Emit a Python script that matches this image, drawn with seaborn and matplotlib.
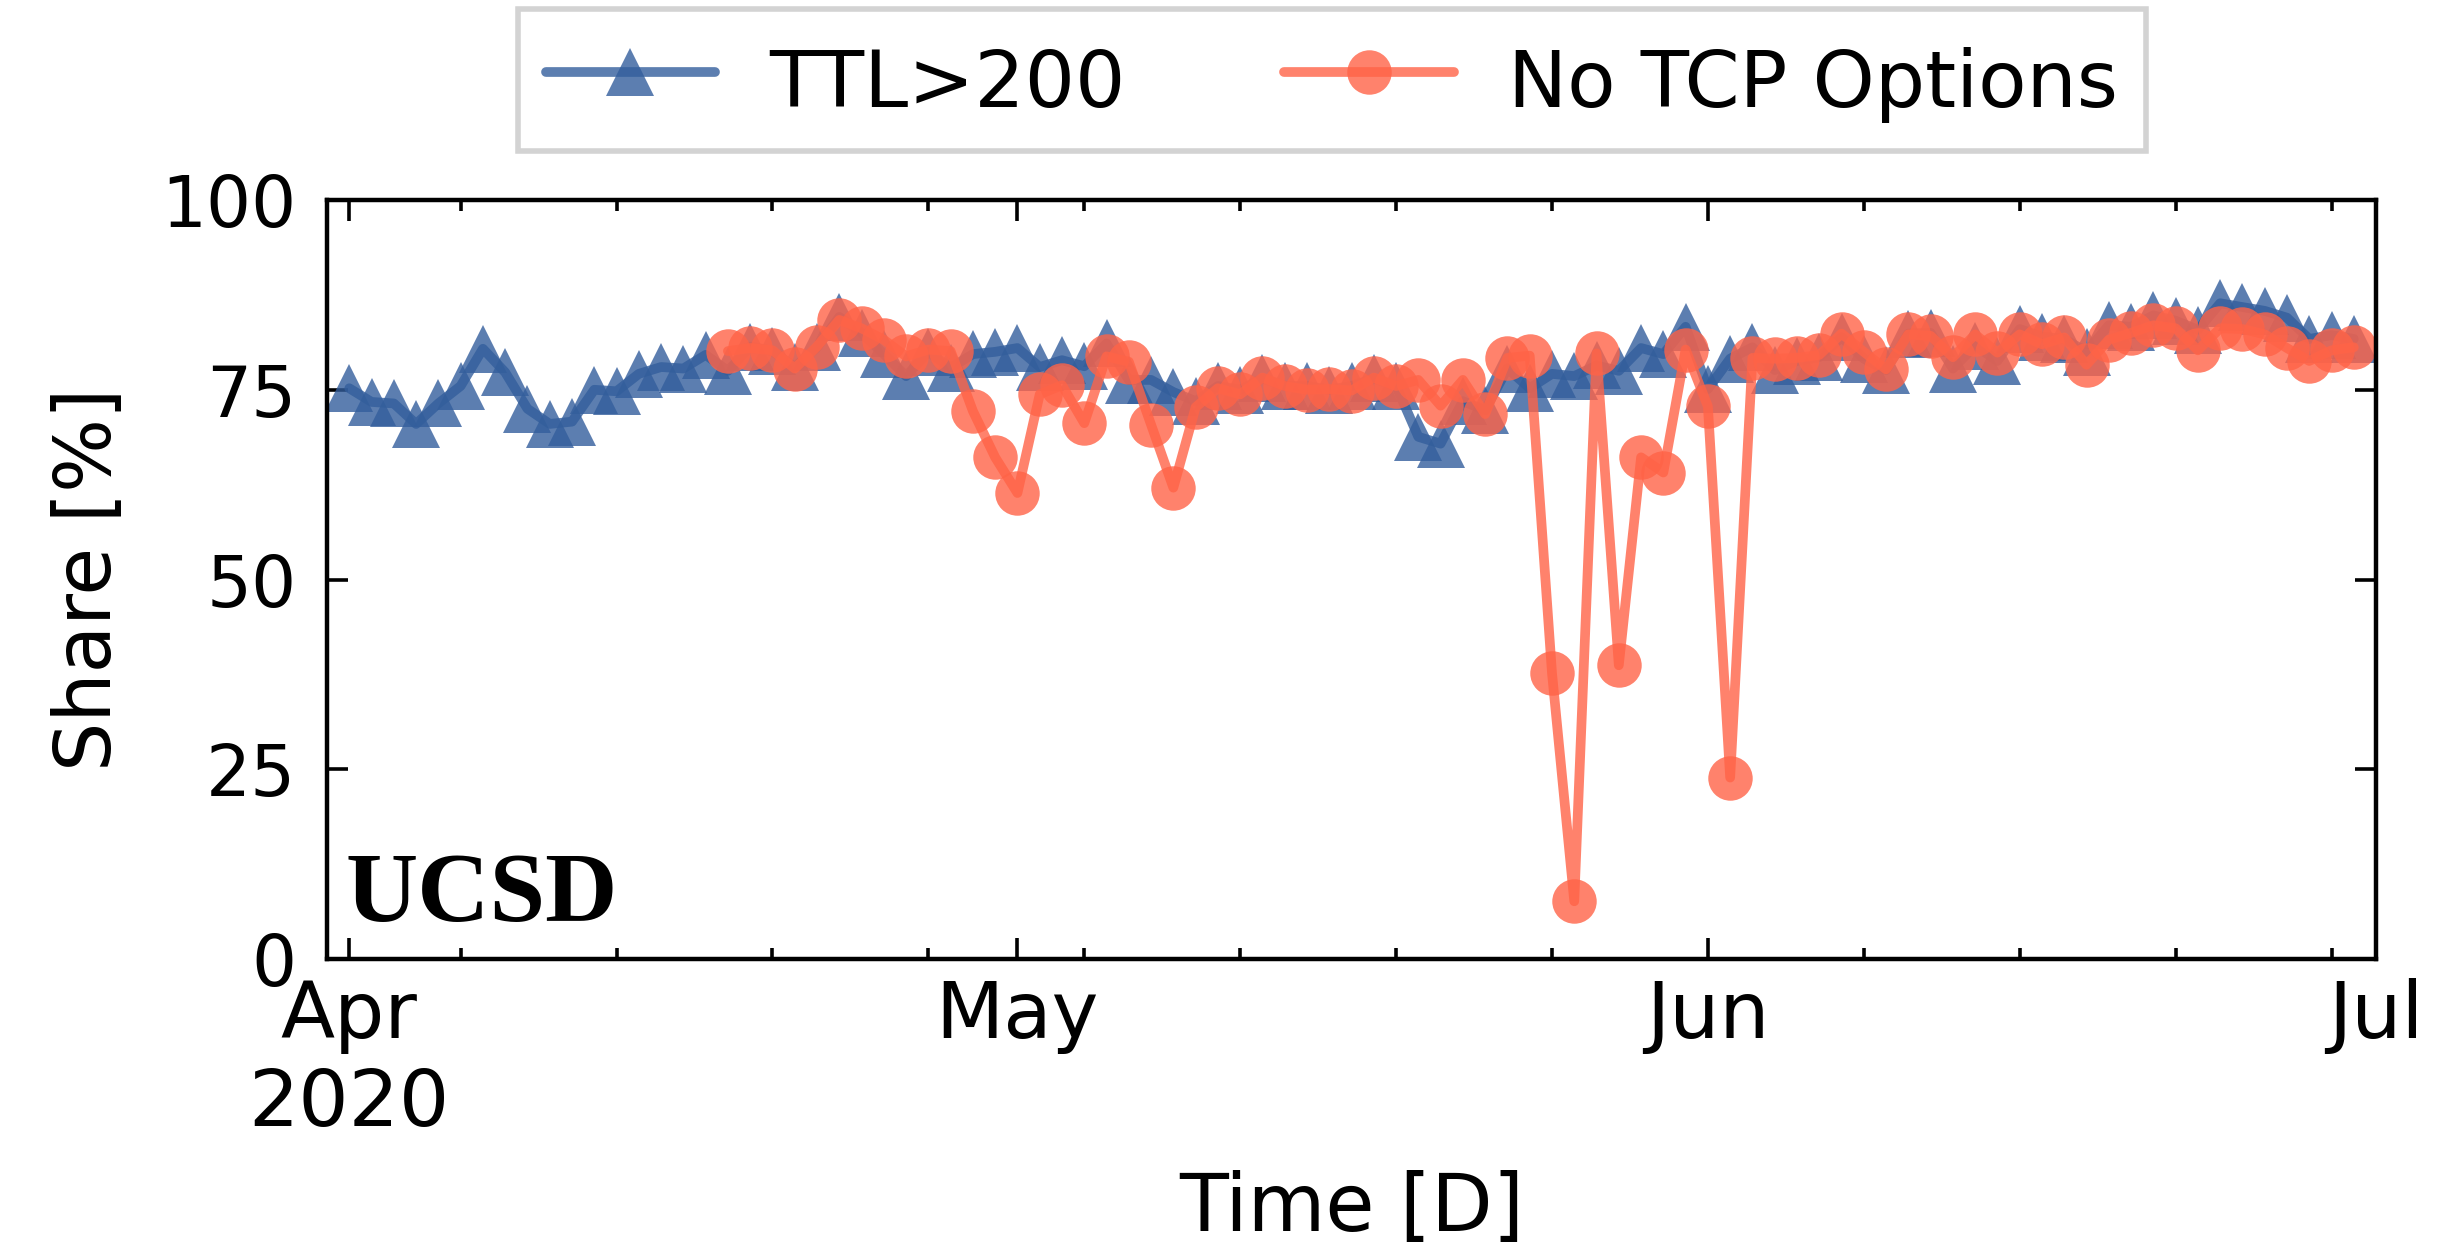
import numpy as np
import pandas as pd
import seaborn as sns
import matplotlib.pyplot as plt
import matplotlib.dates as mdates
from matplotlib.ticker import FuncFormatter

# daily share of packets, Apr 1 - Jun 30 2020
days = pd.date_range("2020-04-01", "2020-06-30", freq="D")

ttl_200 = [75.2, 73.4, 73.2, 70.5, 73.2, 75.5, 80.4, 77.3, 72.5, 70.5,
           70.8, 75.0, 74.8, 77.1, 78.0, 77.8, 79.6, 77.5, 80.7, 80.1,
           78.0, 80.6, 84.6, 82.5, 79.7, 76.8, 80.0, 77.9, 79.7, 80.0,
           80.5, 78.0, 78.9, 78.1, 81.1, 76.3, 76.3, 74.7, 73.5, 75.5,
           75.0, 76.5, 75.5, 75.5, 75.0, 75.5, 76.5, 75.5, 68.8, 67.9,
           73.5, 72.3, 77.8, 75.2, 77.1, 76.8, 78.2, 77.5, 80.5, 79.7,
           83.3, 75.1, 79.1, 80.6, 77.6, 78.8, 79.3, 81.9, 79.1, 77.6,
           82.4, 82.5, 77.8, 80.8, 78.8, 83.0, 82.0, 81.7, 80.0, 83.5,
           83.3, 84.8, 84.1, 82.9, 86.4, 85.9, 85.4, 84.5, 81.7, 82.2,
           81.7]

no_tcp_opts = [np.nan] * 17 + [
           80.1, 80.5, 80.2,
           77.8, 80.7, 84.2, 83.1, 81.6, 79.4, 80.3, 80.1, 72.2, 66.1,
           61.4, 74.4, 75.6, 70.6, 79.4, 78.7, 70.4, 62.1, 72.7, 75.2,
           74.4, 76.6, 75.5, 75.0, 75.1, 74.9, 76.6, 75.5, 76.3, 72.9,
           76.3, 71.8, 79.2, 79.5, 37.7, 7.6, 79.8, 38.7, 66.1, 64.1,
           80.3, 72.8, 23.9, 79.2, 79.1, 79.2, 79.6, 82.4, 80.0, 77.7,
           82.3, 82.1, 79.3, 82.3, 79.9, 82.3, 81.0, 81.9, 78.3, 81.6,
           82.5, 83.5, 83.1, 80.2, 83.1, 83.0, 82.3, 80.5, 78.8, 80.2,
           80.6]

df = pd.DataFrame({"day": days, "TTL>200": ttl_200, "No TCP Options": no_tcp_opts})

sns.set_style("ticks")
plt.rcParams['font.family'] = ['DejaVu Sans']
plt.rcParams['text.color'] = 'black'
plt.rcParams['axes.labelcolor'] = 'black'
plt.rcParams['xtick.color'] = 'black'
plt.rcParams['ytick.color'] = 'black'

fig = plt.figure(figsize=(12.22, 6.24), dpi=200)
ax = fig.add_axes([0.1338, 0.2316, 0.8384, 0.6081])

sns.lineplot(data=df, x="day", y="TTL>200", ax=ax, color="#335e9c", marker="^",
             markersize=17, linewidth=3.5, alpha=0.8, mew=0, label="TTL>200")
sns.lineplot(data=df, x="day", y="No TCP Options", ax=ax, color="tomato", marker="o",
             markersize=16, linewidth=3.5, alpha=0.8, mew=0, label="No TCP Options")

ax.set_xlim(pd.Timestamp("2020-03-31"), pd.Timestamp("2020-07-01"))
ax.set_ylim(0, 100)
ax.set_yticks([0, 25, 50, 75, 100])

ax.xaxis.set_major_locator(mdates.MonthLocator(bymonthday=1))
ax.xaxis.set_minor_locator(mdates.WeekdayLocator(byweekday=mdates.MO))


def month_label(x, pos):
    d = mdates.num2date(x)
    if d.month == 4:
        return d.strftime("%b\n%Y")
    return d.strftime("%b")


ax.xaxis.set_major_formatter(FuncFormatter(month_label))

ax.tick_params(axis="both", which="both", direction="in", top=True, right=True,
               colors="black")
ax.tick_params(axis="both", which="major", length=7.4, width=1.3)
ax.tick_params(axis="both", which="minor", length=3.9, width=1.3)
ax.tick_params(axis="x", which="major", pad=7, labelsize=28.5)
ax.tick_params(axis="y", which="major", pad=11, labelsize=25.5)
for s in ax.spines.values():
    s.set_linewidth(1.6)
    s.set_color("black")

ax.set_xlabel("Time [D]", fontsize=28.8, labelpad=10)
ax.set_ylabel("Share [%]", fontsize=28, labelpad=12.5)

ax.text(0.009, 0.05, "UCSD", transform=ax.transAxes, fontsize=36, color="black",
        fontweight="bold", family="Liberation Serif", ha="left", va="baseline")

leg = ax.legend(loc="lower center", bbox_to_anchor=(0.545, 0.879),
                bbox_transform=fig.transFigure, ncol=2, fontsize=28.5,
                frameon=True, fancybox=False, framealpha=1, edgecolor="#d3d3d3",
                handlelength=2.14, handleheight=1.3, handletextpad=0.69,
                columnspacing=2.0, borderpad=0.35, borderaxespad=0)
leg.get_frame().set_linewidth(2)

fig.savefig("out.png", dpi=200)
